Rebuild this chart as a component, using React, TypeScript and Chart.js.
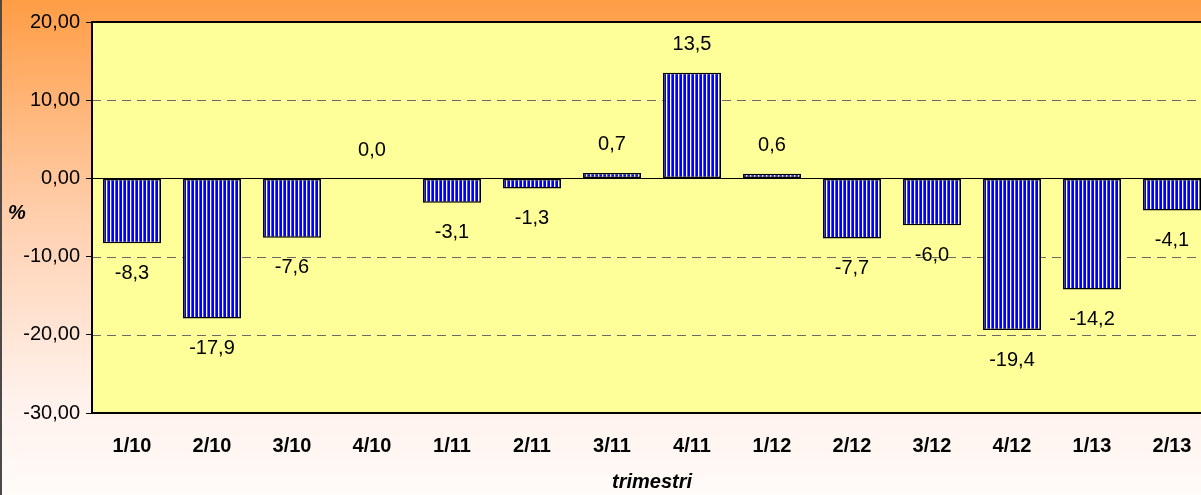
import React, { useEffect, useRef } from "react";
import { Chart, registerables } from "chart.js";

Chart.register(...registerables);

const categories = ["1/10", "2/10", "3/10", "4/10", "1/11", "2/11", "3/11", "4/11", "1/12", "2/12", "3/12", "4/12", "1/13", "2/13"];
const values = [-8.3, -17.9, -7.6, 0.0, -3.1, -1.3, 0.7, 13.5, 0.6, -7.7, -6.0, -19.4, -14.2, -4.1];
const yMin = -30;
const yMax = 20;
const yStep = 10;
const xTitle = "trimestri";
const yTitle = "%";

const FONT = 'Arial, "Liberation Sans", sans-serif';

function makePattern(ctx: CanvasRenderingContext2D) {
  const c = document.createElement("canvas");
  c.width = 4;
  c.height = 4;
  const p = c.getContext("2d")!;
  p.fillStyle = "#0000FF";
  p.fillRect(0, 0, 4, 4);
  p.fillStyle = "#FFFFFF";
  p.fillRect(2, 0, 1, 4);
  p.fillStyle = "#5050FF";
  p.fillRect(3, 0, 1, 4);
  return ctx.createPattern(c, "repeat")!;
}

export default function App() {
  const ref = useRef<HTMLCanvasElement | null>(null);

  useEffect(() => {
    document.body.style.margin = "0";
    document.body.style.overflow = "hidden";
    const canvas = ref.current!;
    const ctx = canvas.getContext("2d")!;
    const pattern = makePattern(ctx);

    const decor = {
      id: "decor",
      beforeDraw(chart: any) {
        const c = chart.ctx;
        const { width, height } = chart;
        const g = c.createLinearGradient(0, 0, 0, height);
        g.addColorStop(0, "#FF9D45");
        g.addColorStop(0.45, "#FFD0B0");
        g.addColorStop(0.8, "#FFF1EB");
        g.addColorStop(1, "#FFFBF9");
        c.save();
        c.fillStyle = g;
        c.fillRect(0, 0, width, height);
        c.fillStyle = "#4A4A4A";
        c.fillRect(0, 0, 2, height);
        const a = chart.chartArea;
        c.fillStyle = "#FFFF99";
        c.fillRect(a.left, a.top, a.right - a.left, a.bottom - a.top);
        c.restore();
      },
      beforeDatasetsDraw(chart: any) {
        const c = chart.ctx;
        const a = chart.chartArea;
        const y = chart.scales.y;
        c.save();
        c.lineWidth = 1;
        y.ticks.forEach((t: any) => {
          const py = Math.round(y.getPixelForValue(t.value)) + 0.5;
          if (t.value === 0) {
            c.setLineDash([]);
            c.strokeStyle = "#000000";
          } else if (t.value === yMin || t.value === yMax) {
            return;
          } else {
            c.setLineDash([9, 6]);
            c.strokeStyle = "#6A6A6A";
          }
          c.beginPath();
          c.moveTo(a.left, py);
          c.lineTo(a.right, py);
          c.stroke();
        });
        c.restore();
      },
      afterDatasetsDraw(chart: any) {
        const c = chart.ctx;
        const a = chart.chartArea;
        const meta = chart.getDatasetMeta(0);
        const y = chart.scales.y;
        const zero = y.getPixelForValue(0);
        c.save();
        c.font = `20px ${FONT}`;
        c.fillStyle = "#000000";
        c.textAlign = "center";
        c.textBaseline = "middle";
        meta.data.forEach((bar: any, i: number) => {
          const v = values[i];
          const text = v.toFixed(1).replace(".", ",");
          const py = y.getPixelForValue(v);
          const ly = v >= 0 ? Math.min(py, zero) - 28 : py + 30;
          c.fillText(text, bar.x, ly);
        });
        c.strokeStyle = "#000000";
        c.lineWidth = 2;
        c.setLineDash([]);
        c.strokeRect(a.left, a.top, a.right - a.left, a.bottom - a.top);
        c.restore();
      },
      afterDraw(chart: any) {
        const c = chart.ctx;
        c.save();
        c.font = `italic bold 20px ${FONT}`;
        c.fillStyle = "#000000";
        c.textAlign = "center";
        c.textBaseline = "middle";
        c.fillText(yTitle, 17, 213);
        c.restore();
      },
    };

    const chart = new Chart(canvas, {
      type: "bar",
      data: {
        labels: categories,
        datasets: [
          {
            data: values,
            backgroundColor: pattern as any,
            borderColor: "#000000",
            borderWidth: 1.5,
            borderSkipped: false,
            barPercentage: 0.725,
            categoryPercentage: 1,
          },
        ],
      },
      options: {
        responsive: false,
        animation: false,
        devicePixelRatio: 1,
        layout: { padding: { top: 22, right: 1, left: 0, bottom: 0 } },
        plugins: {
          legend: { display: false },
          tooltip: { enabled: false },
        },
        scales: {
          x: {
            grid: { display: false },
            border: { display: true, color: "#000000", width: 2 },
            ticks: {
              color: "#000000",
              font: { family: FONT, size: 20, weight: "bold" },
              padding: 13,
              maxRotation: 0,
              autoSkip: false,
            },
            title: {
              display: true,
              text: xTitle,
              color: "#000000",
              font: { family: FONT, size: 20, weight: "bold", style: "italic" },
              padding: { top: 0, bottom: 1 },
            },
            afterFit: (s: any) => {
              s.height = 82;
            },
          },
          y: {
            min: yMin,
            max: yMax,
            ticks: {
              stepSize: yStep,
              color: "#000000",
              font: { family: FONT, size: 20 },
              padding: 6,
              callback: (v: any) => Number(v).toFixed(2).replace(".", ","),
            },
            grid: {
              display: true,
              drawOnChartArea: false,
              drawTicks: true,
              tickLength: 6,
              color: "#000000",
              lineWidth: 1,
            },
            border: { display: true, color: "#000000", width: 2 },
            afterFit: (s: any) => {
              s.width = 92;
            },
          },
        },
      },
      plugins: [decor],
    });
    return () => chart.destroy();
  }, []);

  return (
    <div style={{ width: 1201, height: 495, overflow: "hidden" }}>
      <canvas ref={ref} width={1213} height={495} style={{ display: "block" }} />
    </div>
  );
}
